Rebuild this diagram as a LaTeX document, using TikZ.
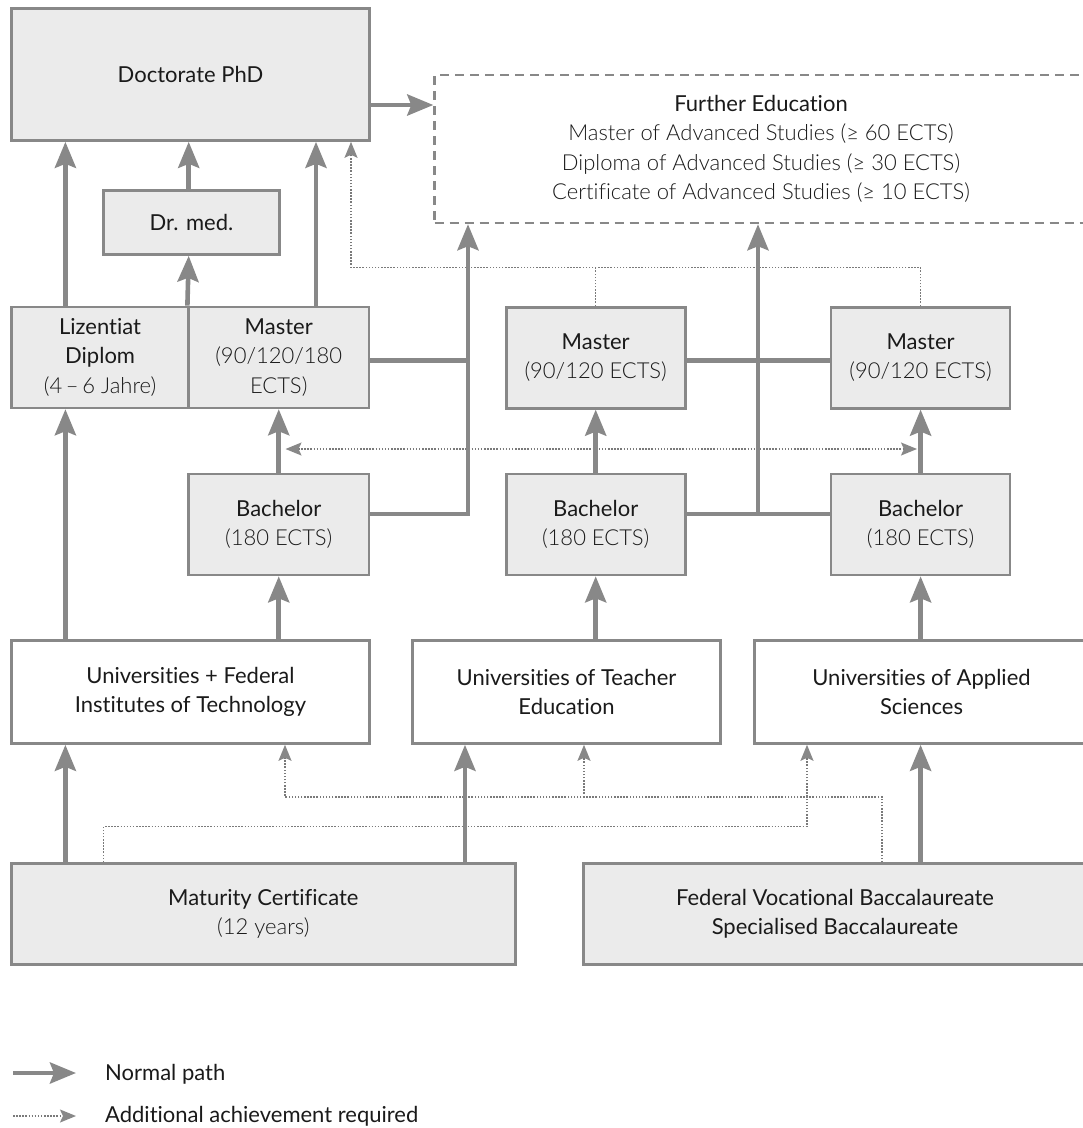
\documentclass[tikz,border=0pt]{standalone}
\usepackage{fontspec}
\setmainfont{Lato}[Ligatures=NoCommon]
\newfontfamily\lt{Lato Light}[Ligatures=NoCommon]
\usetikzlibrary{arrows.meta,calc}
\definecolor{lc}{HTML}{888888}
\definecolor{dc}{HTML}{7A7A7A}
\definecolor{bf}{HTML}{EBEBEB}
\definecolor{tc}{HTML}{1A1A1A}
\begin{document}
\begin{tikzpicture}[x=1pt,y=-1pt,
  font=\fontsize{22}{29.5}\selectfont, text=tc,
  gbox/.style={draw=lc,line width=2.6pt,fill=bf,align=center,inner sep=0pt},
  wbox/.style={gbox,fill=white},
  febox/.style={draw=lc,line width=2.4pt,dash pattern=on 9pt off 6pt,align=center,inner sep=0pt},
  normal/.style={draw=lc,line width=4.6pt,-{Stealth[length=26pt,width=21pt,inset=4pt]}},
  thickline/.style={draw=lc,line width=4.6pt},
  dotline/.style={draw=dc,line width=1.5pt,dash pattern=on 1.5pt off 1.6pt},
  dotarrow/.style={dotline,-{Stealth[length=16pt,width=13pt,inset=3pt,fill=lc,color=lc]}},
  dotboth/.style={dotline,{Stealth[length=16pt,width=13pt,inset=3pt,fill=lc,color=lc]}-{Stealth[length=16pt,width=13pt,inset=3pt,fill=lc,color=lc]}},
]
\useasboundingbox (0,0) rectangle (1083,1128);
\clip (0,0) rectangle (1083,1128);

% column / row helper coordinates
\coordinate (X65) at (65.4,0);
\coordinate (X189) at (188.7,0);
\coordinate (X316) at (316,0);
\coordinate (X351) at (351,0);
\coordinate (X468) at (468,0);
\coordinate (X758) at (758,0);
\coordinate (X465) at (465,0);
\coordinate (X103) at (103.5,0);
\coordinate (X285) at (285,0);
\coordinate (X584) at (584,0);
\coordinate (X807) at (807,0);
\coordinate (X882) at (882,0);
\coordinate (Y267) at (0,267.5);
\coordinate (Y360) at (0,360.5);
\coordinate (Y514) at (0,514);
\coordinate (Y797) at (0,797);
\coordinate (Y826) at (0,826.5);

% boxes
\node[gbox,minimum width=358,minimum height=132] (doc) at (190.5,74.5) {Doctorate PhD};
\node[febox,minimum width=653,minimum height=148] (fe) at (761,149)
  {Further Education\\{\lt Master of Advanced Studies (≥ 60 ECTS)}\\{\lt Diploma of Advanced Studies (≥ 30 ECTS)}\\{\lt Certificate of Advanced Studies (≥ 10 ECTS)}};
\node[gbox,minimum width=176,minimum height=64] (drmed) at (191.5,222.5) {Dr. med.};
\node[gbox,minimum width=177.2,minimum height=101] (liz) at (100.1,357.4) {Lizentiat\\Diplom\\{\lt (4\,–\,6 Jahre)}};
\node[gbox,minimum width=180.1,minimum height=101] (m1) at (278.75,357.4) {Master\\{\lt (90/120/180}\\{\lt ECTS)}};
\node[gbox,minimum width=179,minimum height=101] (m2) at (595.7,357.8) {Master\\{\lt (90/120 ECTS)}};
\node[gbox,minimum width=179,minimum height=101] (m3) at (920.6,357.8) {Master\\{\lt (90/120 ECTS)}};
\node[gbox,minimum width=180.1,minimum height=101] (b1) at (278.75,524.5) {Bachelor\\{\lt (180 ECTS)}};
\node[gbox,minimum width=179,minimum height=101] (b2) at (595.7,524.5) {Bachelor\\{\lt (180 ECTS)}};
\node[gbox,minimum width=179,minimum height=101] (b3) at (920.6,524.5) {Bachelor\\{\lt (180 ECTS)}};
\node[wbox,minimum width=358,minimum height=103] (uni) at (190.5,692) {Universities + Federal\\Institutes of Technology};
\node[wbox,minimum width=308,minimum height=103] (tea) at (566.5,692) {Universities of Teacher\\Education};
\node[wbox,minimum width=334,minimum height=103] (app) at (921.5,692) {Universities of Applied\\Sciences};
\node[gbox,minimum width=504,minimum height=101] (mat) at (263.3,914) {Maturity Certificate\\{\lt (12 years)}};
\node[gbox,minimum width=503,minimum height=101] (voc) at (835,914) {Federal Vocational Baccalaureate\\Specialised Baccalaureate};

% dotted connectors
\draw[dotarrow] (m3.north) -- (m3.north |- Y267) -| (doc.south -| X351);
\draw[dotline] (m2.north) -- (m2.north |- Y267);
\coordinate (dl) at (285.5,449);
\coordinate (dr) at (917,449);
\draw[dotboth] (dl) -- (dr);
\draw[dotarrow] (mat.north -| X103) -- (X103 |- Y826) -| (app.south -| X807);
\draw[dotarrow] (voc.north -| X882) -- (X882 |- Y797) -| (uni.south -| X285);
\draw[dotarrow] (X584 |- Y797) -- (tea.south -| X584);

% normal paths
\draw[normal] (doc.east |- 0,105) -- (fe.west |- 0,105);
\draw[normal] (liz.north -| X65) -- (doc.south -| X65);
\draw[normal] (drmed.north -| X189) -- (doc.south -| X189);
\draw[normal] (m1.north west) -- (drmed.south -| X189);
\draw[normal] (m1.north -| X316) -- (doc.south -| X316);
\draw[thickline] (m1.east |- Y360) -- (X468 |- Y360);
\draw[normal,line join=miter] (b1.east |- Y514) -| (fe.south -| X468);
\draw[thickline] (m2.east |- Y360) -- (m3.west |- Y360);
\draw[thickline] (b2.east |- Y514) -- (b3.west |- Y514);
\draw[normal] (X758 |- Y514) -- (fe.south -| X758);
\draw[normal] (b1.north) -- (m1.south);
\draw[normal] (b2.north) -- (m2.south);
\draw[normal] (b3.north) -- (m3.south);
\draw[normal] (uni.north -| X65) -- (liz.south -| X65);
\draw[normal] (uni.north -| b1.south) -- (b1.south);
\draw[normal] (tea.north -| b2.south) -- (b2.south);
\draw[normal] (app.north -| b3.south) -- (b3.south);
\draw[normal] (mat.north -| X65) -- (uni.south -| X65);
\draw[normal] (mat.north -| X465) -- (tea.south -| X465);
\draw[normal] (voc.north -| b3.south) -- (app.south -| b3.south);

% legend
\coordinate (la) at (13,1073);
\coordinate (lb) at (76,1073);
\coordinate (lc1) at (13,1116);
\coordinate (ld) at (76,1116);
\draw[normal] (la) -- (lb);
\draw[dotarrow] (lc1) -- (ld);
\node[anchor=west,inner sep=0pt] (ln) at (105,1074) {Normal path};
\node[anchor=west,inner sep=0pt] (lt) at (105,1116) {Additional achievement required};
\end{tikzpicture}
\end{document}
